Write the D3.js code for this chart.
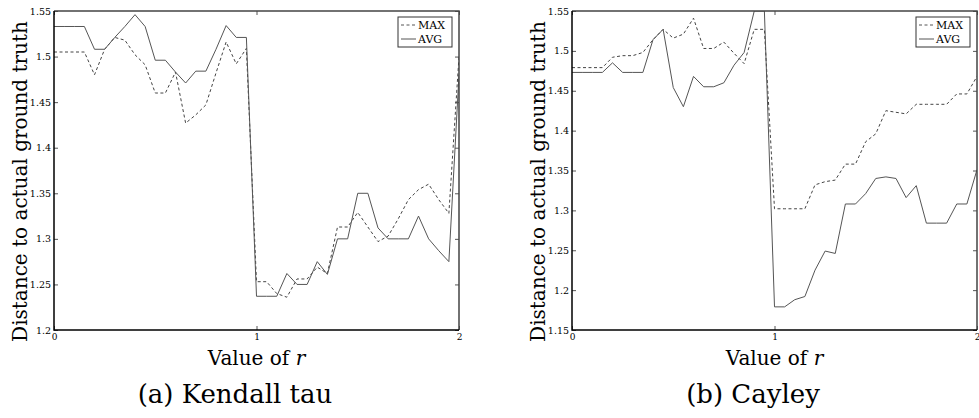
<!DOCTYPE html>
<html lang='en'>
  <head>
    <meta charset="utf-8">
    <style>
      body { margin: 0; background: #ffffff; }
      svg text { font-family: "DejaVu Serif", serif; fill: #000000; }
    </style>
    <title>Distance to ground truth</title>
    <script src="https://d3js.org/d3.v7.min.js"></script>
  </head>
  <body>
    <div id="chart"></div>
  <script>

    // values of r (x axis)
    var rValues = [0, 0.05, 0.1, 0.15, 0.2, 0.25, 0.3, 0.35, 0.4, 0.45,
                   0.5, 0.55, 0.6, 0.65, 0.7, 0.75, 0.8, 0.85, 0.9, 0.95,
                   1, 1.05, 1.1, 1.15, 1.2, 1.25, 1.3, 1.35, 1.4, 1.45,
                   1.5, 1.55, 1.6, 1.65, 1.7, 1.75, 1.8, 1.85, 1.9, 1.95, 2]

    // (a) Kendall tau
    var kendallMax = [1.505, 1.505, 1.505, 1.505, 1.480, 1.508, 1.521, 1.518, 1.502, 1.491,
                      1.460, 1.460, 1.483, 1.427, 1.436, 1.447, 1.482, 1.516, 1.492, 1.509,
                      1.253, 1.253, 1.240, 1.236, 1.256, 1.256, 1.269, 1.262, 1.313, 1.313,
                      1.329, 1.313, 1.297, 1.303, 1.322, 1.343, 1.354, 1.360, 1.343, 1.328, 1.500]
    var kendallAvg = [1.533, 1.533, 1.533, 1.533, 1.508, 1.508, 1.521, 1.533, 1.546, 1.533,
                      1.496, 1.496, 1.483, 1.471, 1.484, 1.484, 1.508, 1.534, 1.521, 1.521,
                      1.237, 1.237, 1.237, 1.262, 1.250, 1.250, 1.275, 1.261, 1.300, 1.300,
                      1.350, 1.350, 1.312, 1.300, 1.300, 1.300, 1.325, 1.300, 1.287, 1.275, 1.480]

    // (b) Cayley
    var cayleyMax = [1.479, 1.479, 1.479, 1.479, 1.492, 1.494, 1.494, 1.498, 1.514, 1.527,
                     1.516, 1.521, 1.541, 1.503, 1.503, 1.511, 1.497, 1.484, 1.527, 1.527,
                     1.302, 1.302, 1.302, 1.302, 1.332, 1.336, 1.338, 1.358, 1.358, 1.386,
                     1.396, 1.425, 1.423, 1.421, 1.433, 1.433, 1.433, 1.433, 1.446, 1.446, 1.468]
    var cayleyAvg = [1.473, 1.473, 1.473, 1.473, 1.485, 1.473, 1.473, 1.473, 1.514, 1.527,
                     1.454, 1.430, 1.468, 1.455, 1.455, 1.460, 1.482, 1.498, 1.550, 1.550,
                     1.179, 1.179, 1.188, 1.192, 1.225, 1.249, 1.246, 1.308, 1.308, 1.321,
                     1.340, 1.342, 1.340, 1.316, 1.331, 1.284, 1.284, 1.284, 1.308, 1.308, 1.351]

    // tick labels
    var xTicks = [0, 1, 2]
    var kendallYTicks = [1.2, 1.25, 1.3, 1.35, 1.4, 1.45, 1.5, 1.55]
    var cayleyYTicks = [1.15, 1.2, 1.25, 1.3, 1.35, 1.4, 1.45, 1.5, 1.55]

    var legendNames = ["MAX", "AVG"]

    var svg = d3.select("#chart")
      .append("svg")
        .attr("width", 979)
        .attr("height", 418)

    var width = 405, height = 319
    var serif = "'DejaVu Serif', serif"

    function drawPanel(id, left, top, yDomain, yTicks, maxVals, avgVals, caption) {
      var g = svg.append("g")
        .attr("transform", "translate(" + left + "," + top + ")")

      var x = d3.scaleLinear().domain([0, 2]).range([0, width])
      var y = d3.scaleLinear().domain(yDomain).range([height, 0])

      g.append("clipPath").attr("id", "clip" + id)
        .append("rect").attr("width", width).attr("height", height)

      // axes, ticks pointing inward
      var fmt = function(d) { return String(+d.toFixed(2)) }
      var yl = g.append("g").call(d3.axisLeft(y).tickValues(yTicks).tickSize(-4).tickPadding(3).tickFormat(fmt))
      var yr = g.append("g").attr("transform", "translate(" + width + ",0)")
        .call(d3.axisRight(y).tickValues(yTicks).tickSize(-4).tickFormat(""))
      var xb = g.append("g").attr("transform", "translate(0," + height + ")")
        .call(d3.axisBottom(x).tickValues(xTicks).tickSize(-4).tickPadding(4).tickFormat(d3.format("d")))
      var xt = g.append("g")
        .call(d3.axisTop(x).tickValues(xTicks).tickSize(-4).tickFormat(""))
      ;[yl, yr, xb, xt].forEach(function(a) {
        a.attr("font-family", serif)
        a.select(".domain").remove()
        a.selectAll(".tick line").attr("stroke", "#555")
        a.selectAll("text").style("font-size", "9.5px").attr("fill", "#222")
      })
      xb.selectAll("text").style("font-size", "9px")

      // lines
      var line = d3.line()
        .x(function(d, i) { return x(rValues[i]) })
        .y(function(d) { return y(d) })
      var lines = g.append("g").attr("clip-path", "url(#clip" + id + ")")
      lines.append("path")
        .attr("d", line(maxVals))
        .attr("fill", "none")
        .attr("stroke", "#444")
        .attr("stroke-width", 1)
        .attr("stroke-dasharray", "3,2.5")
      lines.append("path")
        .attr("d", line(avgVals))
        .attr("fill", "none")
        .attr("stroke", "#555")
        .attr("stroke-width", 1)

      // frame
      g.append("path")
        .attr("d", "M0,0H" + width + "V" + height)
        .attr("fill", "none").attr("stroke", "#444").attr("stroke-width", 1.5)
      g.append("path")
        .attr("d", "M0,0V" + height + "H" + width)
        .attr("fill", "none").attr("stroke", "#000").attr("stroke-width", 1.5)

      // legend
      var lg = g.append("g").attr("transform", "translate(" + (width - 61) + ",6)")
      lg.append("rect")
        .attr("width", 54).attr("height", 30)
        .attr("fill", "#fff").attr("stroke", "#333").attr("stroke-width", 1)
      legendNames.forEach(function(name, i) {
        lg.append("line")
          .attr("x1", 3).attr("x2", 18)
          .attr("y1", 8 + i * 14).attr("y2", 8 + i * 14)
          .attr("stroke", "#555").attr("stroke-width", 1)
          .attr("stroke-dasharray", i == 0 ? "3,2.5" : null)
        lg.append("text")
          .attr("x", 20).attr("y", 12 + i * 14)
          .style("font-size", "11px")
          .text(name)
      })

      // axis titles
      var xl = g.append("text")
        .attr("x", width / 2).attr("y", height + 35)
        .attr("text-anchor", "middle")
        .style("font-size", "20px")
      xl.append("tspan").text("Value of ")
      xl.append("tspan").style("font-style", "italic").text("r")

      g.append("text")
        .attr("transform", "translate(-27," + (height / 2 + 11) + ") rotate(-90)")
        .attr("text-anchor", "middle")
        .style("font-size", "20px")
        .text("Distance to actual ground truth")

      // caption
      g.append("text")
        .attr("x", 181).attr("y", height + 73)
        .attr("text-anchor", "middle")
        .style("font-size", "26px")
        .text(caption)
    }

    drawPanel("a", 54, 11, [1.2, 1.55], kendallYTicks, kendallMax, kendallAvg, "(a) Kendall tau")
    drawPanel("b", 572, 11, [1.15, 1.55], cayleyYTicks, cayleyMax, cayleyAvg, "(b) Cayley")

  </script>
  </body>
</html>
